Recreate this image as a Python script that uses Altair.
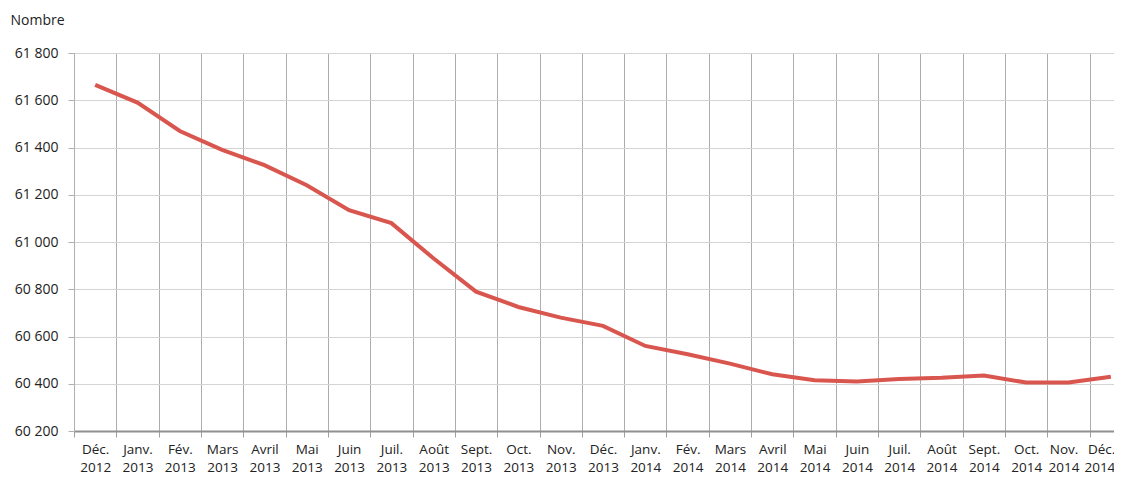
import altair as alt
import pandas as pd

months = ["Déc.", "Janv.", "Fév.", "Mars", "Avril", "Mai", "Juin", "Juil.", "Août",
          "Sept.", "Oct.", "Nov.", "Déc.", "Janv.", "Fév.", "Mars", "Avril", "Mai",
          "Juin", "Juil.", "Août", "Sept.", "Oct.", "Nov.", "Déc."]
years = ["2012"] + ["2013"] * 12 + ["2014"] * 12
values = [61665, 61590, 61470, 61390, 61325, 61240, 61135, 61080, 60930, 60790,
          60725, 60680, 60645, 60560, 60525, 60485, 60440, 60415, 60410, 60420,
          60425, 60435, 60405, 60405, 60430]

labels = [f"{m} {y}" for m, y in zip(months, years)]
df = pd.DataFrame({"periode": labels, "nombre": values})

FONT = "Open Sans"

chart = alt.Chart(df).mark_line(color="#d9564f", strokeWidth=4).encode(
    x=alt.X("periode:N", sort=labels,
            scale=alt.Scale(type="band", paddingInner=0, paddingOuter=0),
            axis=alt.Axis(title=None, labelAngle=0, tickBand="extent",
                          labelExpr="split(datum.label, ' ')",
                          labelAlign=alt.expr("datum.index === 1 ? 'right' : 'center'"),
                          labelOffset=alt.expr("datum.index === 1 ? 4 : (datum.index > 0.95 ? -5 : 0)"),
                          labelFont=FONT, labelFontSize=13.5, labelColor="#222222",
                          labelPadding=5, tickSize=6, tickColor="#a0a0a0",
                          domainColor="#909090", domainWidth=2,
                          grid=True, gridColor="#acacac", gridWidth=1,
                          labelLineHeight=18, labelBaseline="top")),
    y=alt.Y("nombre:Q",
            scale=alt.Scale(domain=[60200, 61800], nice=False, zero=False),
            axis=alt.Axis(values=list(range(60200, 61801, 200)),
                          labelExpr="replace(format(datum.value, ','), ',', ' ')",
                          title="Nombre", titleAngle=0, titleAlign="left",
                          titleBaseline="middle", titleX=-64, titleY=-33,
                          titleFont=FONT, titleFontSize=14, titleFontWeight="normal",
                          titleColor="#222222",
                          labelFont=FONT, labelFontSize=14, labelColor="#222222",
                          labelPadding=10, tickSize=6, tickColor="#b0b0b0",
                          domainColor="#b0b0b0", domainWidth=1,
                          grid=True, gridColor="#d4d4d4", gridWidth=1)),
).properties(
    width=1058, height=378,
    autosize=alt.AutoSizeParams(type="none"),
    padding={"left": 66, "top": 45, "right": -18, "bottom": 44},
).configure_view(stroke=None)

chart.save("out.html", embed_options={"renderer": "svg", "actions": False})
